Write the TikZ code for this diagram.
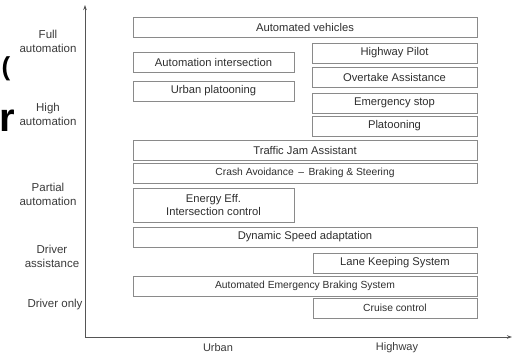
\documentclass[tikz,border=0pt]{standalone}
\usepackage{fontspec}
\setmainfont{Liberation Sans}
\usetikzlibrary{arrows.meta}
\definecolor{boxline}{HTML}{8A8A8A}
\definecolor{axisline}{HTML}{555555}
\definecolor{txt}{HTML}{2E2E2E}
\definecolor{lbl}{HTML}{3A3A3A}
\tikzset{
  featbox/.style={draw=boxline, line width=0.8pt, inner sep=0pt, text=txt,
    font=\fontsize{11.2}{13}\selectfont, minimum height=20pt, align=center},
  smalltxt/.style={font=\fontsize{10.3}{12}\selectfont},
  levellabel/.style={text=lbl, font=\fontsize{11.5}{14}\selectfont, align=center, inner sep=0pt},
  axislabel/.style={text=lbl, font=\fontsize{11}{13}\selectfont, inner sep=0pt},
  axis/.style={draw=axisline, line width=0.8pt, -{Stealth[length=5pt,width=3.5pt]}},
}
\begin{document}
\begin{tikzpicture}[x=1pt,y=-1pt]
\useasboundingbox (0,0) rectangle (513,355);
% stray glyph fragments at the left edge
\node[anchor=west, inner sep=0pt, font=\fontsize{26}{26}\bfseries\selectfont] (frag1) at (1.5,69) {(};
\node[anchor=west, inner sep=0pt, font=\fontsize{40}{40}\bfseries\selectfont] (frag2) at (-0.5,121) {r};
% axes
\coordinate (O) at (85,337);
\coordinate (ytop) at (85,5);
\coordinate (xend) at (512,337);
\draw[axis] (O) -- (ytop);
\draw[axis] (O) -- (xend);
% level labels
\node[levellabel] (l1) at (48,41) {Full\\automation};
\node[levellabel] (l2) at (48,114) {High\\automation};
\node[levellabel] (l3) at (48,194.5) {Partial\\automation};
\node[levellabel] (l4) at (52,256) {Driver\\assistance};
\node[levellabel] (l5) at (55,305) {Driver only};
% axis labels
\node[axislabel] (urban) at (218,348) {Urban};
\node[axislabel] (hwy) at (397,348) {Highway};
% boxes
\node[featbox, minimum width=344pt] (av) at (305,27) {Automated vehicles};
\node[featbox, minimum width=161pt] (ai) at (213.5,62) {Automation intersection};
\node[featbox, minimum width=161pt] (up) at (213.5,91) {Urban platooning};
\node[featbox, minimum width=165pt] (hp) at (394.5,53) {Highway Pilot};
\node[featbox, minimum width=165pt] (oa) at (394.5,77) {Overtake Assistance};
\node[featbox, minimum width=165pt] (es) at (394.5,103) {Emergency stop};
\node[featbox, minimum width=165pt] (pl) at (394.5,126) {Platooning};
\node[featbox, minimum width=344pt] (tja) at (305,150) {Traffic Jam Assistant};
\node[featbox, smalltxt, minimum width=344pt] (ca) at (305,173) {Crash Avoidance \,–\, Braking \& Steering};
\node[featbox, minimum width=161pt, minimum height=34pt] (ee) at (213.5,205) {Energy Eff.\\Intersection control};
\node[featbox, minimum width=344pt] (dsa) at (305,237) {Dynamic Speed adaptation};
\node[featbox, minimum width=164pt] (lks) at (395,263) {Lane Keeping System};
\node[featbox, smalltxt, minimum width=344pt] (aeb) at (305,286) {Automated Emergency Braking System};
\node[featbox, smalltxt, minimum width=164pt] (cc) at (395,308) {Cruise control};
\end{tikzpicture}
\end{document}
